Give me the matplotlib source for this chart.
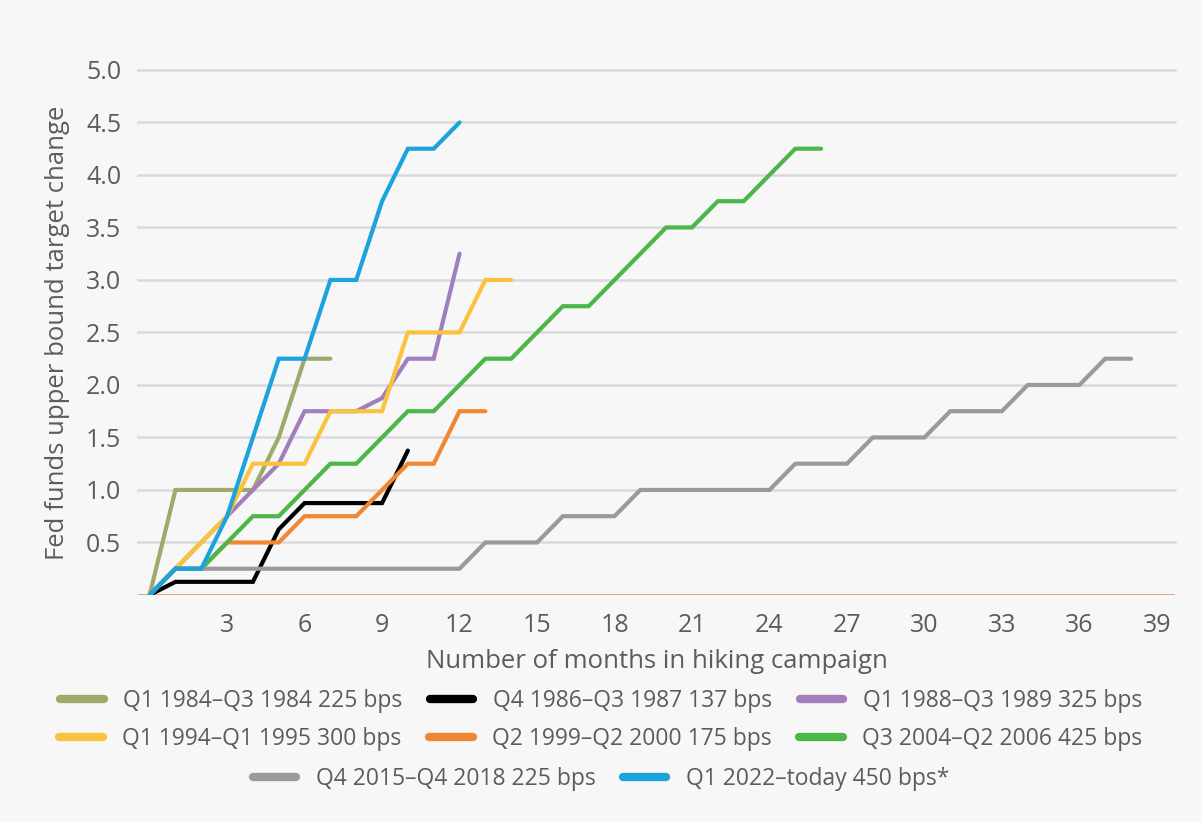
import matplotlib.pyplot as plt
from matplotlib.lines import Line2D

# months since start of each hiking campaign, cumulative change in %
q1_1984 = [0, 1.0, 1.0, 1.0, 1.0, 1.5, 2.25, 2.25]
q4_1986 = [0, 0.125, 0.125, 0.125, 0.125, 0.625, 0.875, 0.875, 0.875, 0.875, 1.375]
q1_1988 = [0, 0.25, 0.5, 0.75, 1.0, 1.25, 1.75, 1.75, 1.75, 1.875, 2.25, 2.25, 3.25]
q1_1994 = [0, 0.25, 0.5, 0.75, 1.25, 1.25, 1.25, 1.75, 1.75, 1.75, 2.5, 2.5, 2.5, 3.0, 3.0]
q2_1999 = [0, 0.25, 0.25, 0.5, 0.5, 0.5, 0.75, 0.75, 0.75, 1.0, 1.25, 1.25, 1.75, 1.75]
q3_2004 = [0, 0.25, 0.25, 0.5, 0.75, 0.75, 1.0, 1.25, 1.25, 1.5, 1.75, 1.75, 2.0, 2.25,
           2.25, 2.5, 2.75, 2.75, 3.0, 3.25, 3.5, 3.5, 3.75, 3.75, 4.0, 4.25, 4.25]
q4_2015 = [0, 0.25, 0.25, 0.25, 0.25, 0.25, 0.25, 0.25, 0.25, 0.25, 0.25, 0.25, 0.25,
           0.5, 0.5, 0.5, 0.75, 0.75, 0.75, 1.0, 1.0, 1.0, 1.0, 1.0, 1.0, 1.25, 1.25,
           1.25, 1.5, 1.5, 1.5, 1.75, 1.75, 1.75, 2.0, 2.0, 2.0, 2.25, 2.25]
q1_2022 = [0, 0.25, 0.25, 0.75, 1.5, 2.25, 2.25, 3.0, 3.0, 3.75, 4.25, 4.25, 4.5]

labels = ['Q1 1984\u2013Q3 1984 225 bps', 'Q4 1986\u2013Q3 1987 137 bps',
          'Q1 1988\u2013Q3 1989 325 bps', 'Q1 1994\u2013Q1 1995 300 bps',
          'Q2 1999\u2013Q2 2000 175 bps', 'Q3 2004\u2013Q2 2006 425 bps',
          'Q4 2015\u2013Q4 2018 225 bps', 'Q1 2022\u2013today 450 bps*']
series = [q1_1984, q4_1986, q1_1988, q1_1994, q2_1999, q3_2004, q4_2015, q1_2022]
colors = ['#9dab6a', '#000000', '#a27ebd', '#fbc23d', '#ef8733',
          '#4cb648', '#9a9a9e', '#1aa3dc']
draw_order = [6, 5, 4, 1, 3, 2, 0, 7]

plt.rcParams['font.family'] = ['Open Sans', 'DejaVu Sans']
txt = '#5c5c5c'
bg = '#f7f7f7'

fig = plt.figure(figsize=(12.02, 8.22), dpi=100, facecolor=bg)
ax = fig.add_axes([0.1148, 0.2762, 0.8627, 0.6387], facecolor=bg)

for i in draw_order:
    ax.plot(range(len(series[i])), series[i], color=colors[i], lw=3.0,
            solid_capstyle='round', solid_joinstyle='miter', zorder=3 + i * 0.1)

for y in [0.5, 1, 1.5, 2, 2.5, 3, 3.5, 4, 4.5, 5]:
    ax.axhline(y, color='#d9d9dc', lw=1.8, zorder=1, clip_on=False)
ax.axhline(0, color='#e89a66', lw=1.3, zorder=2)

ax.set_xlim(-0.45, 39.7)
ax.set_ylim(0, 5.0)
ax.set_xticks(range(3, 40, 3))
ax.set_yticks([0.5, 1, 1.5, 2, 2.5, 3, 3.5, 4, 4.5, 5])
ax.set_yticklabels(['%.1f' % v for v in ax.get_yticks()])
ax.tick_params(length=0, labelsize=18, labelcolor=txt, pad=12)
ax.tick_params(axis='x', pad=13)
for s in ax.spines.values():
    s.set_visible(False)

ax.set_xlabel('Number of months in hiking campaign', fontsize=18.5, color=txt)
ax.set_ylabel('Fed funds upper bound target change', fontsize=18.5, color=txt)
ax.xaxis.set_label_coords(0.5, -0.103)
ax.yaxis.set_label_coords(-0.066, 0.5)

handles = [Line2D([], [], color=c, lw=6, solid_capstyle='round') for c in colors]
rows = [[0, 1, 2], [3, 4, 5], [6, 7]]
ys = [0.147, 0.101, 0.052]
for row, yy in zip(rows, ys):
    fig.legend([handles[i] for i in row], [labels[i] for i in row],
               loc='center', bbox_to_anchor=(0.5, yy), ncol=len(row),
               frameon=False, fontsize=16.5, handlelength=1.9,
               columnspacing=1.2, handletextpad=0.85, labelcolor=txt)

fig.savefig('out.png', dpi=100, facecolor=bg)
